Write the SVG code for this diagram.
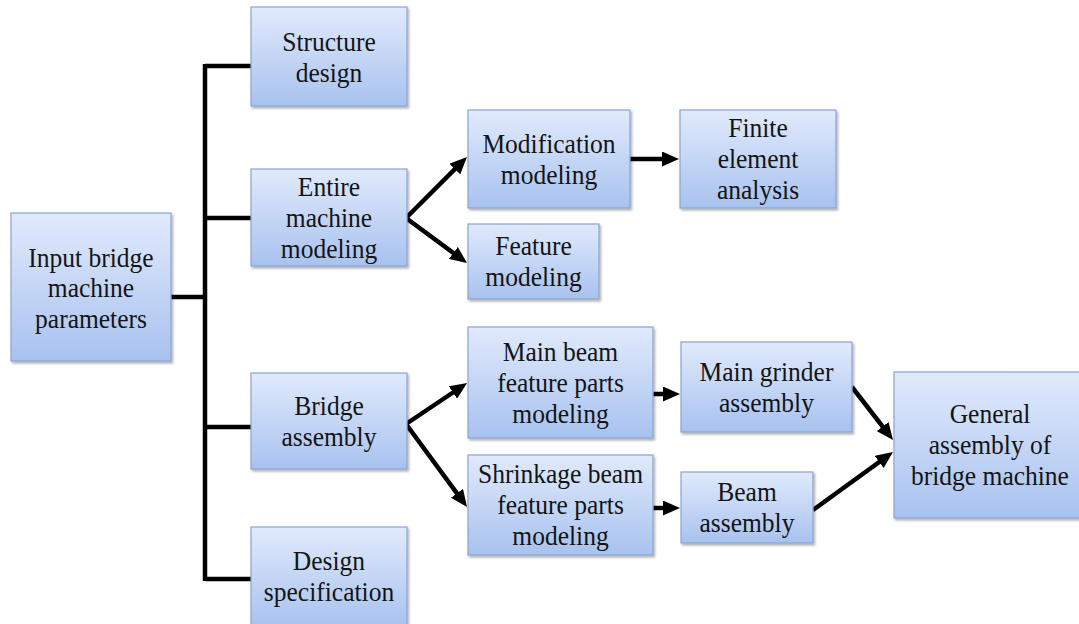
<svg xmlns="http://www.w3.org/2000/svg" width="1079" height="624" viewBox="0 0 1079 624">
<style>
.box{fill:url(#bg);stroke:#8aa4d2;stroke-width:1.2;filter:url(#sh)}
.t{font-family:"Liberation Serif","Times New Roman",serif;font-size:27px;fill:#141414;text-anchor:middle}
.c{stroke:#000;stroke-width:4.5;fill:none}
.a{stroke:#000;stroke-width:4.5;fill:none;marker-end:url(#ah)}
</style>
<defs>
<linearGradient id="bg" x1="0" y1="0" x2="0" y2="1">
<stop offset="0" stop-color="#e1eafc"/>
<stop offset="1" stop-color="#a8c2ef"/>
</linearGradient>
<filter id="sh" x="-5%" y="-5%" width="115%" height="115%">
<feDropShadow dx="1.5" dy="2" stdDeviation="1.2" flood-color="#000" flood-opacity="0.3"/>
</filter>
<marker id="ah" markerUnits="userSpaceOnUse" markerWidth="17" markerHeight="15" refX="9" refY="7.5" orient="auto">
<path d="M0,0 L17,7.5 L0,15 z" fill="#000"/>
</marker>
</defs>
<rect width="1079" height="624" fill="#fff"/>
<g id="connectors">
<path class="c" d="M171,297 H205 M205,64 V581 M205,66 H251 M205,218 H251 M205,427 H251 M205,579 H251"/>
<line class="a" x1="406" y1="218" x2="461.3" y2="162.7"/>
<line class="a" x1="406" y1="218" x2="460.6" y2="258.3"/>
<line class="a" x1="630" y1="159" x2="671" y2="159"/>
<line class="a" x1="406" y1="424" x2="460.4" y2="387.5"/>
<line class="a" x1="406" y1="424" x2="462.3" y2="500.6"/>
<line class="a" x1="653" y1="394" x2="672" y2="394"/>
<line class="a" x1="653" y1="508" x2="672" y2="508"/>
<line class="a" x1="852" y1="387" x2="888.1" y2="433.7"/>
<line class="a" x1="813" y1="510" x2="886.5" y2="456.7"/>
</g>
<g id="input">
<rect class="box" x="11" y="213" width="160" height="148"/>
<text class="t" transform="scale(0.945,1)"><tspan x="96.3" y="267">Input bridge</tspan><tspan x="96.3" y="297.5">machine</tspan><tspan x="96.3" y="328">parameters</tspan></text>
</g>
<g id="structure">
<rect class="box" x="251" y="7" width="156" height="99"/>
<text class="t" transform="scale(0.945,1)"><tspan x="348.15" y="51">Structure</tspan><tspan x="348.15" y="82">design</tspan></text>
</g>
<g id="entire">
<rect class="box" x="251" y="169" width="156" height="97"/>
<text class="t" transform="scale(0.945,1)"><tspan x="348.15" y="196">Entire</tspan><tspan x="348.15" y="227">machine</tspan><tspan x="348.15" y="258">modeling</tspan></text>
</g>
<g id="bridge">
<rect class="box" x="251" y="373" width="156" height="96"/>
<text class="t" transform="scale(0.945,1)"><tspan x="348.15" y="415">Bridge</tspan><tspan x="348.15" y="446">assembly</tspan></text>
</g>
<g id="designspec">
<rect class="box" x="251" y="527" width="156" height="100"/>
<text class="t" transform="scale(0.945,1)"><tspan x="348.15" y="570">Design</tspan><tspan x="348.15" y="601">specification</tspan></text>
</g>
<g id="modification">
<rect class="box" x="468" y="110" width="162" height="98"/>
<text class="t" transform="scale(0.945,1)"><tspan x="580.95" y="153">Modification</tspan><tspan x="580.95" y="184">modeling</tspan></text>
</g>
<g id="finite">
<rect class="box" x="680" y="110" width="156" height="98"/>
<text class="t" transform="scale(0.945,1)"><tspan x="802.12" y="137.5">Finite</tspan><tspan x="802.12" y="168.5">element</tspan><tspan x="802.12" y="199.5">analysis</tspan></text>
</g>
<g id="feature">
<rect class="box" x="468" y="224" width="131" height="75"/>
<text class="t" transform="scale(0.945,1)"><tspan x="564.55" y="255.5">Feature</tspan><tspan x="564.55" y="286.5">modeling</tspan></text>
</g>
<g id="mainbeam">
<rect class="box" x="468" y="327" width="185" height="111"/>
<text class="t" transform="scale(0.945,1)"><tspan x="593.12" y="361">Main beam</tspan><tspan x="593.12" y="392">feature parts</tspan><tspan x="593.12" y="423">modeling</tspan></text>
</g>
<g id="shrinkage">
<rect class="box" x="468" y="455" width="185" height="100"/>
<text class="t" transform="scale(0.945,1)"><tspan x="593.12" y="483.5">Shrinkage beam</tspan><tspan x="593.12" y="514.5">feature parts</tspan><tspan x="593.12" y="545.5">modeling</tspan></text>
</g>
<g id="maingrinder">
<rect class="box" x="681" y="342" width="171" height="90"/>
<text class="t" transform="scale(0.945,1)"><tspan x="811.11" y="381">Main grinder</tspan><tspan x="811.11" y="412">assembly</tspan></text>
</g>
<g id="beam">
<rect class="box" x="681" y="472" width="132" height="71"/>
<text class="t" transform="scale(0.945,1)"><tspan x="790.48" y="501.5">Beam</tspan><tspan x="790.48" y="532.5">assembly</tspan></text>
</g>
<g id="general">
<rect class="box" x="894" y="372" width="192" height="146"/>
<text class="t" transform="scale(0.945,1)"><tspan x="1047.62" y="423.5">General</tspan><tspan x="1047.62" y="454.5">assembly of</tspan><tspan x="1047.62" y="485.5">bridge machine</tspan></text>
</g>
</svg>
